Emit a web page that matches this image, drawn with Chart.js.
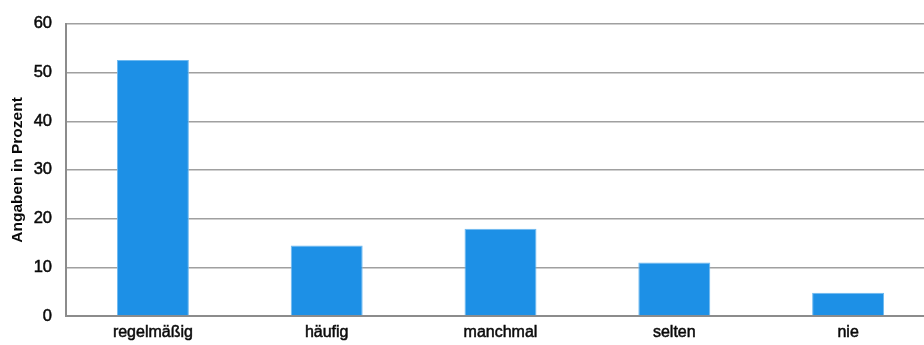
<!DOCTYPE html>
<html>
<head>
<meta charset="utf-8">
<script src="https://cdn.jsdelivr.net/npm/chart.js@4"></script>
<style>
  html, body { margin: 0; padding: 0; background: #fff; overflow: hidden; }
  #wrap { width: 935px; height: 345px; }
</style>
</head>
<body>
<div id="wrap"><canvas id="c"></canvas></div>
<script>
const categories = ['regelmäßig', 'häufig', 'manchmal', 'selten', 'nie'];
const values = [52.6, 14.5, 17.9, 11.0, 4.8];
const yTicks = [0, 10, 20, 30, 40, 50, 60];
const yTitle = 'Angaben in Prozent';

const font = 'Liberation Sans, Arial, Helvetica, sans-serif';
const ink = '#0a0a0a';

new Chart(document.getElementById('c'), {
  type: 'bar',
  data: {
    labels: categories,
    datasets: [{
      data: values,
      backgroundColor: 'rgb(29,144,230)',
      borderColor: 'rgb(110,185,240)',
      borderWidth: 1,
      barPercentage: 0.414,
      categoryPercentage: 1
    }]
  },
  options: {
    responsive: true,
    maintainAspectRatio: false,
    animation: false,
    layout: { padding: { top: 22, left: 0, right: 0, bottom: 0 } },
    plugins: { legend: { display: false }, tooltip: { enabled: false } },
    scales: {
      x: {
        offset: true,
        grid: { display: false, drawTicks: false },
        border: { display: true, color: '#8c8c8c', width: 2 },
        ticks: {
          padding: 7, color: ink, textStrokeColor: ink, textStrokeWidth: 0.5,
          font: { family: font, size: 16 }
        },
        afterFit(scale) { scale.height = 29; }
      },
      y: {
        min: 0,
        max: 60,
        afterBuildTicks(scale) { scale.ticks = yTicks.map(v => ({ value: v })); },
        grid: { color: '#a0a0a0', lineWidth: 1.5, drawTicks: false },
        border: { display: true, color: '#8c8c8c', width: 2 },
        ticks: {
          padding: 14, color: ink, textStrokeColor: ink, textStrokeWidth: 0.5,
          font: { family: font, size: 16.5 }
        },
        title: {
          display: true,
          text: yTitle,
          color: ink,
          padding: { top: 8, bottom: 0 },
          font: { family: font, size: 15.5, weight: 'bold' }
        },
        afterFit(scale) { scale.width = 66; }
      }
    }
  }
});
</script>
</body>
</html>
